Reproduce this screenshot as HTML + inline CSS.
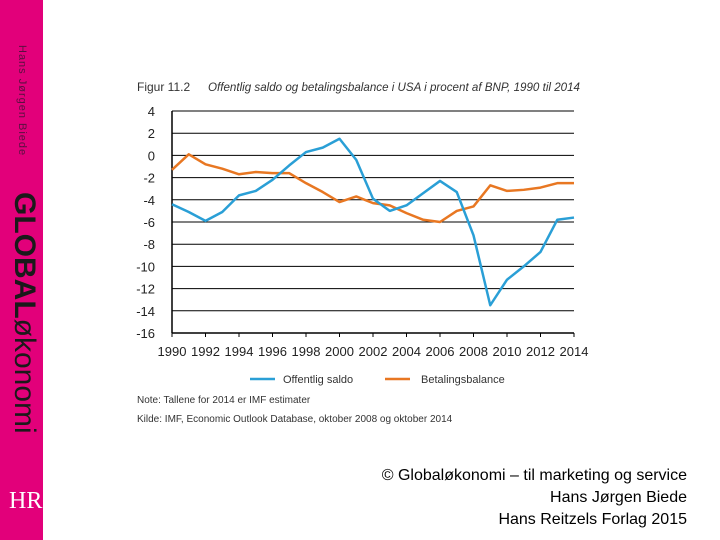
<!DOCTYPE html>
<html><head><meta charset="utf-8"><style>
body{margin:0;width:720px;height:540px;background:#fff;position:relative;overflow:hidden;font-family:"Liberation Sans",sans-serif}
.strip{position:absolute;left:0;top:0;width:43px;height:540px;background:#e2007a}
.vt{position:absolute;transform-origin:0 0;transform:rotate(90deg);white-space:nowrap}
.foot{position:absolute;right:33px;font-size:16px;color:#000;text-align:right}
</style></head><body>
<div class="strip">
<div class="vt" style="left:28px;top:45px;font-size:11px;color:#5a1040;letter-spacing:1px">Hans Jørgen Biede</div>
<div class="vt" style="left:41px;top:192px;font-size:30px;color:#1a1a1a;line-height:34px"><b>GLOBAL</b>økonomi</div>
<div style="position:absolute;left:9px;top:488px;font-family:'Liberation Serif',serif;font-size:24px;color:#fff">HR</div>
</div>
<svg id="chart" width="720" height="540" style="position:absolute;left:0;top:0"></svg>
<div class="foot" style="top:467px">© Globaløkonomi – til marketing og service</div>
<div class="foot" style="top:489px">Hans Jørgen Biede</div>
<div class="foot" style="top:511px">Hans Reitzels Forlag 2015</div>
<script>
const years=[1990,1991,1992,1993,1994,1995,1996,1997,1998,1999,2000,2001,2002,2003,2004,2005,2006,2007,2008,2009,2010,2011,2012,2013,2014];
const saldo=[-4.4,-5.1,-5.9,-5.1,-3.6,-3.2,-2.2,-0.9,0.3,0.7,1.5,-0.4,-3.9,-5.0,-4.5,-3.4,-2.3,-3.3,-7.2,-13.5,-11.2,-10.0,-8.7,-5.8,-5.6];
const betaling=[-1.3,0.1,-0.8,-1.2,-1.7,-1.5,-1.6,-1.6,-2.5,-3.3,-4.2,-3.7,-4.3,-4.5,-5.2,-5.8,-6.0,-5.0,-4.6,-2.7,-3.2,-3.1,-2.9,-2.5,-2.5];
const yTicks=[4,2,0,-2,-4,-6,-8,-10,-12,-14,-16];
const xTicks=[1990,1992,1994,1996,1998,2000,2002,2004,2006,2008,2010,2012,2014];
const svg=document.getElementById('chart');const NS='http://www.w3.org/2000/svg';
const X=v=>172+(v-1990)*(574-172)/24;
const Y=v=>111+(4-v)*(333-111)/20;
function mk(t,a,p){const e=document.createElementNS(NS,t);for(const k in a)e.setAttribute(k,a[k]);(p||svg).appendChild(e);return e;}
let t=mk('text',{x:137,y:91,'font-size':12,fill:'#333'});t.textContent='Figur 11.2';

t=mk('text',{x:208,y:91,'font-size':12,fill:'#333','font-style':'italic',textLength:372,lengthAdjust:'spacingAndGlyphs'});t.textContent='Offentlig saldo og betalingsbalance i USA i procent af BNP, 1990 til 2014';

yTicks.forEach(v=>{
 const l=mk('line',{x1:172,x2:574,y1:Y(v),y2:Y(v),stroke:'#000','stroke-width':v===-16?1.5:1});
 
 const tx=mk('text',{x:155,y:Y(v)+5,'font-size':13,fill:'#222','text-anchor':'end'});tx.textContent=v;
 
});
let ax=mk('line',{x1:172,x2:172,y1:Y(4),y2:Y(-16),stroke:'#000','stroke-width':1.5});

xTicks.forEach(v=>{
 const l=mk('line',{x1:X(v),x2:X(v),y1:Y(-16),y2:Y(-16)+4,stroke:'#000'});
 
 const tx=mk('text',{x:X(v),y:356,'font-size':13,fill:'#222','text-anchor':'middle'});tx.textContent=v;
 
});
function line(d,c,n){const p=mk('polyline',{points:d.map((v,i)=>X(years[i])+','+Y(v)).join(' '),fill:'none',stroke:c,'stroke-width':2.5,'stroke-linejoin':'round'});
 }
line(betaling,'#e87722','series-betalingsbalance');
line(saldo,'#2a9fd6','series-offentlig-saldo');
let lg=mk('line',{x1:250,x2:275,y1:379,y2:379,stroke:'#2a9fd6','stroke-width':2.5});

t=mk('text',{x:283,y:383,'font-size':11,fill:'#333'});t.textContent='Offentlig saldo';

lg=mk('line',{x1:385,x2:410,y1:379,y2:379,stroke:'#e87722','stroke-width':2.5});

t=mk('text',{x:421,y:383,'font-size':11,fill:'#333'});t.textContent='Betalingsbalance';

t=mk('text',{x:137,y:403,'font-size':10,fill:'#333'});t.textContent='Note: Tallene for 2014 er IMF estimater';

t=mk('text',{x:137,y:422,'font-size':10,fill:'#333'});t.textContent='Kilde: IMF, Economic Outlook Database, oktober 2008 og oktober 2014';

</script>
</body></html>
